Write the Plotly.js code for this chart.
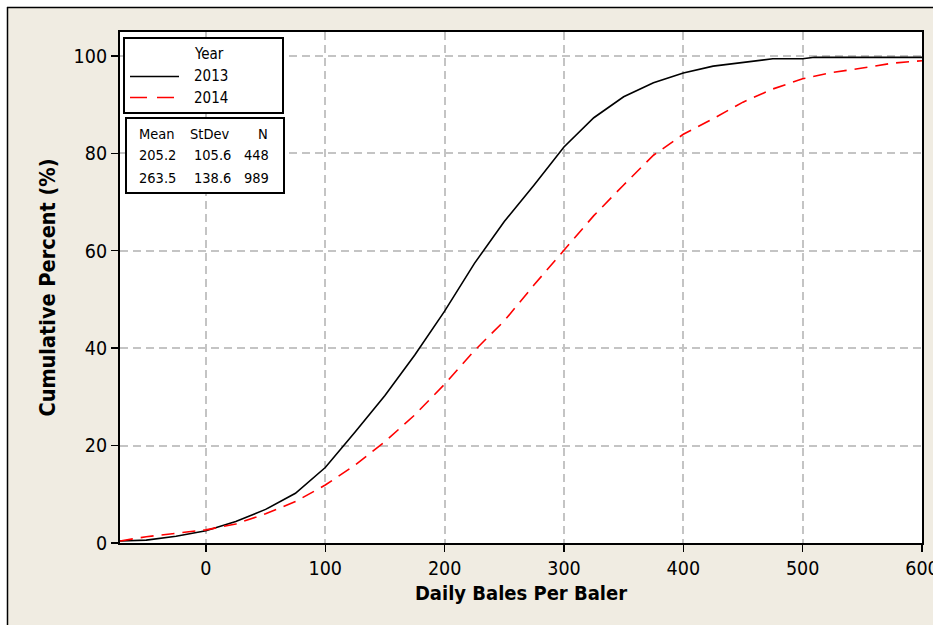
<!DOCTYPE html>
<html>
<head>
<meta charset="utf-8">
<script src="https://cdn.plot.ly/plotly-3.0.1.min.js"></script>
<style>html,body{margin:0;padding:0;background:#fff;}#chart{width:933px;height:625px;}</style>
</head>
<body>
<div id="chart"></div>
<script>
// ---- data ----
const years = ['2013', '2014'];
const x2013 = [-72, -50, -25, 0, 25, 50, 75, 100, 125, 150, 175, 200, 225, 250, 275, 300, 325, 350, 375, 400, 425, 450, 475, 500, 510, 600];
const y2013 = [0.4, 0.6, 1.4, 2.5, 4.4, 6.9, 10.2, 15.5, 22.8, 30.3, 38.6, 47.6, 57.4, 66.0, 73.5, 81.3, 87.3, 91.6, 94.5, 96.5, 97.9, 98.7, 99.4, 99.4, 99.7, 99.7];
const x2014 = [-72, -50, -25, 0, 25, 50, 75, 100, 125, 150, 175, 200, 225, 250, 275, 300, 325, 350, 375, 400, 425, 450, 475, 500, 525, 550, 575, 600];
const y2014 = [0.4, 1.3, 2.0, 2.7, 3.9, 6.0, 8.5, 11.9, 16.0, 20.8, 26.3, 32.6, 39.5, 45.6, 53.0, 60.2, 67.2, 73.5, 79.6, 83.9, 87.1, 90.5, 93.2, 95.3, 96.6, 97.5, 98.5, 99.0];
const statHeaders = ['Mean', 'StDev', 'N'];
const means = ['205.2', '263.5'];
const stdevs = ['105.6', '138.6'];
const counts = ['448', '989'];
const xTicks = [0, 100, 200, 300, 400, 500, 600];
const yTicks = [0, 20, 40, 60, 80, 100];

// ---- layout geometry (pixels -> paper) ----
const W = 933, H = 625;
const M = {l: 120, r: 11, t: 32, b: 82};
const PW = W - M.l - M.r, PH = H - M.t - M.b;
const px = p => (p - M.l) / PW;
const py = q => (H - M.b - q) / PH;

const FONT = 'Tahoma, "DejaVu Sans Condensed", "DejaVu Sans", sans-serif';

const traces = [
  {x: x2013, y: y2013, name: years[0], type: 'scatter', mode: 'lines',
   line: {color: '#000000', width: 1.6}},
  {x: x2014, y: y2014, name: years[1], type: 'scatter', mode: 'lines',
   line: {color: '#ff0000', width: 1.6, dash: '13px,8px'}}
];

const shapes = [
  // outer frame
  {type: 'rect', xref: 'paper', yref: 'paper', x0: px(-5), x1: px(W + 5), y0: py(-5), y1: py(7), fillcolor: '#ffffff', line: {width: 0}, layer: 'above'},
  {type: 'rect', xref: 'paper', yref: 'paper', x0: px(-5), x1: px(7), y0: py(-5), y1: py(H + 5), fillcolor: '#ffffff', line: {width: 0}, layer: 'above'},
  {type: 'line', xref: 'paper', yref: 'paper', x0: px(7), x1: px(W + 5), y0: py(7.5), y1: py(7.5), line: {color: '#000', width: 1.5}, layer: 'above'},
  {type: 'line', xref: 'paper', yref: 'paper', x0: px(7.5), x1: px(7.5), y0: py(7), y1: py(H + 5), line: {color: '#000', width: 1.5}, layer: 'above'},
  // legend box
  {type: 'rect', xref: 'paper', yref: 'paper', x0: px(124), x1: px(283), y0: py(113), y1: py(38), fillcolor: '#ffffff', line: {color: '#000', width: 2}, layer: 'above'},
  {type: 'line', xref: 'paper', yref: 'paper', x0: px(130), x1: px(179), y0: py(76.5), y1: py(76.5), line: {color: '#000', width: 1.5}, layer: 'above'},
  {type: 'line', xref: 'paper', yref: 'paper', x0: px(130), x1: px(174), y0: py(97.5), y1: py(97.5), line: {color: '#ff0000', width: 1.5, dash: '17px,10px'}, layer: 'above'},
  // stats box
  {type: 'rect', xref: 'paper', yref: 'paper', x0: px(126), x1: px(284), y0: py(193), y1: py(118), fillcolor: '#ffffff', line: {color: '#000', width: 2}, layer: 'above'}
];

const ann = (text, xp, yp, xanchor, size) => ({
  text: text, xref: 'paper', yref: 'paper', x: px(xp), y: py(yp),
  xanchor: xanchor, yanchor: 'middle', showarrow: false,
  font: {family: FONT, size: size, color: '#000'}
});

const annotations = [
  ann('Year', 209, 53.5, 'center', 15),
  ann(years[0], 192, 76.5, 'left', 15),
  ann(years[1], 192, 97.5, 'left', 15),
  ann(statHeaders[0], 177, 133.5, 'right', 14.5),
  ann(statHeaders[1], 231, 133.5, 'right', 14.5),
  ann(statHeaders[2], 270, 133.5, 'right', 14.5),
  ann(means[0], 177.5, 155, 'right', 14.5),
  ann(stdevs[0], 233, 155, 'right', 14.5),
  ann(counts[0], 270.5, 155, 'right', 14.5),
  ann(means[1], 177.5, 178, 'right', 14.5),
  ann(stdevs[1], 233, 178, 'right', 14.5),
  ann(counts[1], 270.5, 178, 'right', 14.5)
];

const axisCommon = {
  showgrid: true, gridcolor: '#c4c4c4', gridwidth: 2, griddash: '8px,5px',
  zeroline: false, showline: true, mirror: true, linecolor: '#000', linewidth: 2,
  ticks: 'outside', ticklen: 7, tickwidth: 1.5, tickcolor: '#000',
  ticklabeloverflow: 'allow',
  tickfont: {family: FONT, size: 19.5, color: '#000'}, automargin: false
};

const layout = {
  width: W, height: H, margin: M,
  paper_bgcolor: '#f0ece2', plot_bgcolor: '#ffffff',
  showlegend: false,
  xaxis: Object.assign({}, axisCommon, {
    range: [-72, 600], tickvals: xTicks, ticktext: xTicks.map(String),
    title: {text: '<b>Daily Bales Per Baler</b>', font: {family: FONT, size: 20, color: '#000'}, standoff: 7}
  }),
  yaxis: Object.assign({}, axisCommon, {
    range: [0, 104.9], tickvals: yTicks, ticktext: yTicks.map(String),
    title: {text: '<b>Cumulative Percent (%)</b>', font: {family: FONT, size: 21.5, color: '#000'}, standoff: 12}
  }),
  shapes: shapes,
  annotations: annotations
};

Plotly.newPlot('chart', traces, layout, {displayModeBar: false, staticPlot: true});
</script>
</body>
</html>
